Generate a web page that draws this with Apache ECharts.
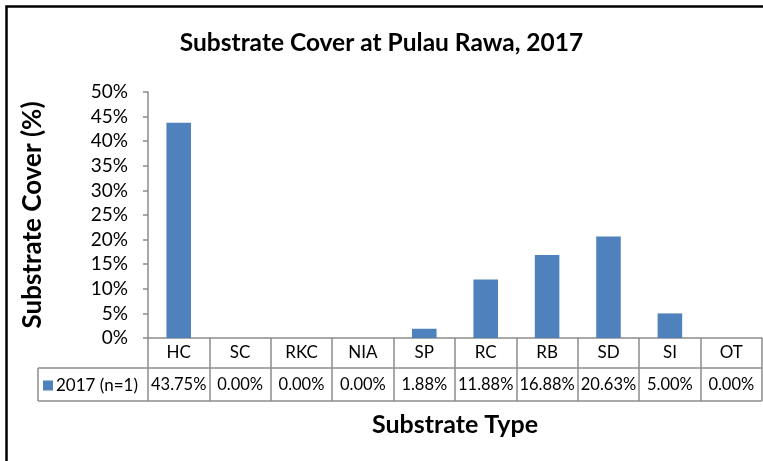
<!DOCTYPE html>
<html>
<head>
<meta charset="utf-8">
<script src="https://cdn.jsdelivr.net/npm/echarts@6/dist/echarts.min.js"></script>
<style>html,body{margin:0;padding:0;background:#fff}#c{width:763px;height:461px}</style>
</head>
<body>
<div id="c"></div>
<script>
var categories = ['HC','SC','RKC','NIA','SP','RC','RB','SD','SI','OT'];
var values = [43.75, 0.00, 0.00, 0.00, 1.88, 11.88, 16.88, 20.63, 5.00, 0.00];
var seriesName = '2017 (n=1)';
var yTicks = {min: 0, max: 50, interval: 5};

var FONT = 'Lato, "Liberation Sans", sans-serif';
var G = {left: 148, right: 1, top: 92, bottom: 123};
var W = 763, H = 461;
var axisY = H - G.bottom;           // 338
var row1 = 30, row2 = 33;
var tableLeft = 38, tableRight = W - G.right;
var gridLine = '#8c8c8c';

var chart = echarts.init(document.getElementById('c'));
chart.setOption({
  animation: false,
  backgroundColor: '#fff',
  title: {
    text: 'Substrate Cover at Pulau Rawa, 2017',
    left: 'center', top: 31, padding: 0,
    textStyle: {fontFamily: FONT, fontSize: 24.5, fontWeight: 'bold', color: '#000'}
  },
  legend: {
    left: 43, top: 377, padding: 0,
    icon: 'rect', itemWidth: 10, itemHeight: 10, itemGap: 0,
    textStyle: {fontFamily: FONT, fontSize: 17, color: '#000', padding: [0,0,0,-2]},
    data: [seriesName]
  },
  grid: {left: G.left, right: G.right, top: G.top, bottom: G.bottom, containLabel: false},
  xAxis: {
    type: 'category', data: categories,
    name: 'Substrate Type', nameLocation: 'middle', nameGap: 74,
    nameTextStyle: {fontFamily: FONT, fontSize: 25, fontWeight: 'bold', color: '#000'},
    axisLine: {lineStyle: {color: gridLine, width: 1.5}},
    axisTick: {show: true, interval: 0, length: row1 + row2, lineStyle: {color: gridLine, width: 1.5}},
    axisLabel: {
      interval: 0, margin: 0, color: '#000', fontFamily: FONT,
      formatter: function (v, i) { return '{c|' + v + '}\n{v|' + values[i].toFixed(2) + '%}'; },
      rich: {
        c: {fontFamily: FONT, fontSize: 17, lineHeight: row1, color: '#000'},
        v: {fontFamily: FONT, fontSize: 16.5, lineHeight: row2, color: '#000'}
      }
    }
  },
  yAxis: {
    type: 'value', min: yTicks.min, max: yTicks.max, interval: yTicks.interval,
    name: 'Substrate Cover (%)', nameLocation: 'middle', nameGap: 102, nameRotate: 90,
    nameTextStyle: {fontFamily: FONT, fontSize: 26, fontWeight: 'bold', color: '#000'},
    axisLine: {show: true, lineStyle: {color: gridLine, width: 1.5}},
    axisTick: {show: true, length: 5, lineStyle: {color: gridLine, width: 1.5}},
    splitLine: {show: false},
    axisLabel: {fontFamily: FONT, fontSize: 19, color: '#000', margin: 20,
      formatter: function (v) { return v + '%'; }}
  },
  series: [{
    name: seriesName, type: 'bar', data: values, barWidth: '40%',
    itemStyle: {color: '#4f81bd'}
  }],
  graphic: [
    {type: 'rect', shape: {x: 6.5, y: 6.5, width: 900, height: 600}, style: {fill: 'none', stroke: '#000', lineWidth: 2.5}, silent: true},
    {type: 'polyline', shape: {points: [[tableLeft, axisY + row1], [tableRight, axisY + row1]]}, style: {stroke: gridLine, lineWidth: 1.5, fill: 'none'}},
    {type: 'polyline', shape: {points: [[tableLeft, axisY + row1 + row2], [tableRight, axisY + row1 + row2]]}, style: {stroke: gridLine, lineWidth: 1.5, fill: 'none'}},
    {type: 'polyline', shape: {points: [[tableLeft, axisY + row1], [tableLeft, axisY + row1 + row2]]}, style: {stroke: gridLine, lineWidth: 1.5, fill: 'none'}}
  ]
});
</script>
</body>
</html>
